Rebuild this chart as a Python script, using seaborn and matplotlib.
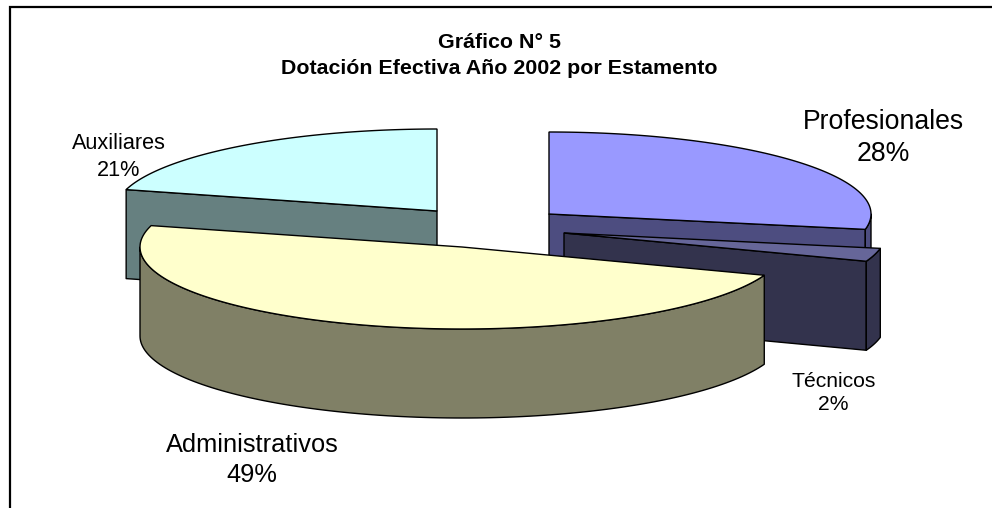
import numpy as np
import seaborn as sns
import matplotlib
matplotlib.use('Agg')
import matplotlib.pyplot as plt
from matplotlib.patches import Polygon

# chart values
categories = ['Profesionales', 'Técnicos', 'Administrativos', 'Auxiliares']
shares = [28.0, 2.6, 48.6, 20.8]
pct_labels = ['28%', '2%', '49%', '21%']
title_lines = ['Gráfico N° 5', 'Dotación Efectiva Año 2002 por Estamento']

# pie look, in pixels of the 992x508 picture
RX, RY, DEPTH = 322, 82, 89
centers = [(549, 214), (564, 233), (462, 247), (437, 211)]
draw_order = [3, 0, 1, 2]
label_pos = [(883.5, 138, 19.2), (833.5, 393, 15.2), (252, 460, 18.3), (119, 157, 15.6)]

sns.set_theme(style='white')
plt.rcParams['font.family'] = ['Liberation Sans', 'DejaVu Sans']
palette = sns.color_palette(['#9999FF', '#666699', '#FFFFCC', '#CCFFFF'])


def rim(cx, cy, t):
    t = np.radians(t)
    return np.column_stack([cx + RX * np.sin(t), cy - RY * np.cos(t)])


def wall(ax, top_pts, color):
    low = top_pts + [0, DEPTH]
    pts = np.vstack([top_pts, low[::-1]])
    ax.add_patch(Polygon(pts, closed=True, fc=color, ec='black', lw=1.0, joinstyle='round'))


def draw_slice(ax, i, t1, t2):
    cx, cy = centers[i]
    top = np.array(palette[i])
    side = top * 0.5
    # radial walls that look towards the viewer
    for t, sign in ((t1, -1), (t2, 1)):
        if sign * np.sin(np.radians(t)) > 1e-6:
            wall(ax, np.vstack([[cx, cy], rim(cx, cy, [t])]), side)
    # front part of the round wall
    a, b = max(t1, 90), min(t2, 270)
    if b > a:
        wall(ax, rim(cx, cy, np.linspace(a, b, 120)), side)
    arc = rim(cx, cy, np.linspace(t1, t2, 240))
    ax.add_patch(Polygon(np.vstack([[cx, cy], arc]), closed=True, fc=top, ec='black', lw=1.0))


fig, ax = plt.subplots(figsize=(9.92, 5.08), dpi=100)
ax.set_position([0, 0, 1, 1])
ax.set_xlim(0, 992)
ax.set_ylim(508, 0)
ax.axis('off')

# chart frame, only top and left are inside the crop
ax.plot([9.5, 9.5, 992], [508, 7, 7], color='black', lw=1.6, solid_joinstyle='miter')

edges = np.concatenate([[0], np.cumsum(shares)]) * 3.6
for i in draw_order:
    draw_slice(ax, i, edges[i], edges[i + 1])

for (x, y, size), name, pct in zip(label_pos, categories, pct_labels):
    ax.text(x, y, name + '\n' + pct, ha='center', va='center', fontsize=size,
            color='black', linespacing=1.33)

ax.text(499, 55.5, '\n'.join(title_lines), ha='center', va='center', fontsize=15.4,
        fontweight='bold', color='black', linespacing=1.5)

plt.savefig('out.png', dpi=100)
